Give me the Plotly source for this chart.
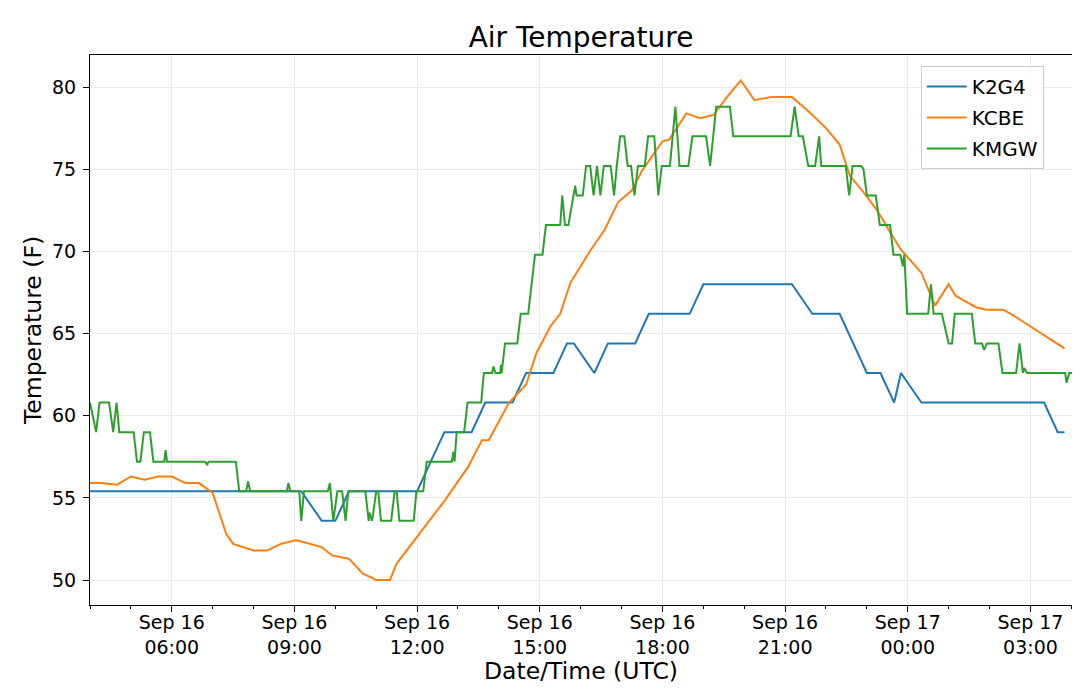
import plotly.graph_objects as go

# Air temperature at three stations (deg F), times in UTC
day1 = "2019-09-16 "
day2 = "2019-09-17 "

k2g4_time = ["04:00", "09:10", "09:40", "10:00", "10:20", "12:00", "12:40", "13:20",
             "13:40", "14:20", "14:40", "15:20", "15:40", "15:50", "16:20", "16:40",
             "17:20", "17:40", "18:40", "19:00", "21:10", "21:40", "22:20", "23:00",
             "23:20", "23:40", "23:50"]
k2g4_time_d2 = ["00:20", "03:20", "03:40", "03:50"]
k2g4_temp = [55.4, 55.4, 53.6, 53.6, 55.4, 55.4, 59.0, 59.0,
             60.8, 60.8, 62.6, 62.6, 64.4, 64.4, 62.6, 64.4,
             64.4, 66.2, 66.2, 68.0, 68.0, 66.2, 66.2, 62.6,
             62.6, 60.8, 62.6,
             60.8, 60.8, 59.0, 59.0]

kcbe_time = ["04:00", "04:15", "04:40", "05:00", "05:20", "05:40", "06:00", "06:20",
             "06:40", "07:00", "07:20", "07:30", "08:00", "08:20", "08:40", "09:00",
             "09:05", "09:40", "09:55", "10:20", "10:40", "11:00", "11:20", "11:30",
             "12:25", "12:40", "13:15", "13:35", "13:45", "14:15", "14:40", "14:55",
             "15:15", "15:30", "15:45", "16:15", "16:35", "16:55", "17:15", "17:30",
             "18:00", "18:10", "18:35", "18:55", "19:15", "19:35", "19:55", "20:15",
             "20:40", "21:10", "21:35", "22:00", "22:20", "22:35", "22:55", "23:15",
             "23:35", "23:50"]
kcbe_time_d2 = ["00:20", "00:40", "01:00", "01:10", "01:40", "01:55", "02:20", "02:35",
                "03:50"]
kcbe_temp = [55.9, 55.9, 55.8, 56.3, 56.1, 56.3, 56.3, 55.9,
             55.9, 55.3, 52.8, 52.2, 51.8, 51.8, 52.2, 52.4,
             52.4, 52.0, 51.5, 51.3, 50.4, 50.0, 50.0, 51.0,
             54.0, 54.8, 56.9, 58.5, 58.5, 60.8, 61.9, 63.8,
             65.4, 66.2, 68.1, 70.1, 71.3, 73.0, 73.7, 74.9,
             76.7, 76.8, 78.4, 78.1, 78.3, 79.4, 80.4, 79.2,
             79.4, 79.4, 78.5, 77.5, 76.5, 74.6, 73.6, 72.5,
             71.1, 70.1,
             68.7, 66.7, 68.0, 67.3, 66.6, 66.45, 66.45, 66.1,
             64.1]

kmgw_time = ["04:00", "04:09", "04:14", "04:28", "04:34", "04:39", "04:43", "05:04",
             "05:09", "05:14", "05:19", "05:28", "05:33", "05:49", "05:51", "05:53",
             "06:49", "06:52", "06:54", "07:34", "07:39", "07:49", "07:52", "07:55",
             "08:49", "08:51", "08:54", "09:07", "09:10", "09:14", "09:49", "09:52",
             "09:57", "10:03", "10:10", "10:15", "10:19", "10:44", "10:49", "10:50",
             "10:54", "11:00", "11:03", "11:07", "11:22", "11:27", "11:30", "11:34",
             "11:55", "11:59", "12:09", "12:14", "12:51", "12:53", "12:55", "12:58",
             "13:09", "13:14", "13:34", "13:38", "13:50", "13:52", "13:55", "14:02",
             "14:03", "14:04", "14:09", "14:27", "14:32", "14:43", "14:53", "15:04",
             "15:09", "15:30", "15:33", "15:37", "15:42", "15:52", "15:54", "16:03",
             "16:08", "16:14", "16:19", "16:24", "16:29", "16:34", "16:44", "16:49",
             "16:53", "16:58", "17:04", "17:09", "17:14", "17:19", "17:24", "17:34",
             "17:39", "17:48", "17:54", "17:59", "18:11", "18:19", "18:25", "18:38",
             "18:44", "19:04", "19:10", "19:19", "19:39", "19:44", "21:08", "21:14",
             "21:20", "21:26", "21:34", "21:44", "21:50", "21:53", "22:29", "22:34",
             "22:39", "22:52", "22:55", "23:00", "23:13", "23:19", "23:34", "23:39",
             "23:49", "23:53", "23:55", "23:59"]
kmgw_time_d2 = ["00:30", "00:34", "00:38", "00:50", "01:00", "01:05", "01:09", "01:34",
                "01:39", "01:49", "01:52", "01:56", "02:13", "02:19", "02:39", "02:44",
                "02:49", "02:51", "02:55", "03:51", "03:53", "03:57", "04:01"]
kmgw_temp = [60.8, 59.0, 60.8, 60.8, 59.0, 60.8, 59.0, 59.0,
             57.2, 57.2, 59.0, 59.0, 57.2, 57.2, 57.9, 57.2,
             57.2, 57.0, 57.2, 57.2, 55.4, 55.4, 56.0, 55.4,
             55.4, 55.9, 55.4, 55.4, 53.6, 55.4, 55.4, 55.9,
             53.6, 55.4, 55.4, 53.6, 55.4, 55.4, 53.6, 54.1,
             53.6, 55.4, 55.4, 53.6, 53.6, 55.4, 55.4, 53.6,
             53.6, 55.4, 55.4, 57.2, 57.2, 57.8, 57.2, 59.0,
             59.0, 60.8, 60.8, 62.6, 62.6, 63.0, 62.6, 62.6,
             63.1, 62.6, 64.4, 64.4, 66.2, 66.2, 69.8, 69.8,
             71.6, 71.6, 73.4, 71.6, 71.6, 74.0, 73.4, 73.4,
             75.2, 75.2, 73.4, 75.2, 73.4, 75.2, 75.2, 73.4,
             75.2, 77.0, 77.0, 75.2, 75.2, 73.4, 75.2, 75.2,
             77.0, 77.0, 73.4, 75.2, 75.2, 78.8, 75.2, 75.2,
             77.0, 77.0, 75.2, 78.8, 78.8, 77.0, 77.0, 78.8,
             77.0, 77.0, 75.2, 75.2, 77.0, 75.2, 75.2, 73.4,
             75.2, 75.2, 75.0, 73.4, 73.4, 71.6, 71.6, 69.8,
             69.8, 69.1, 69.8, 66.2,
             66.2, 68.0, 66.2, 66.2, 64.4, 64.4, 66.2, 66.2,
             64.4, 64.4, 64.0, 64.4, 64.4, 62.6, 62.6, 64.4,
             62.6, 62.9, 62.6, 62.6, 62.0, 62.6, 62.6]


def stamps(first, second):
    return [day1 + t for t in first] + [day2 + t for t in second]


stations = [
    ("K2G4", stamps(k2g4_time, k2g4_time_d2), k2g4_temp, "#1f77b4"),
    ("KCBE", stamps(kcbe_time, kcbe_time_d2), kcbe_temp, "#ff7f0e"),
    ("KMGW", stamps(kmgw_time, kmgw_time_d2), kmgw_temp, "#2ca02c"),
]

fig = go.Figure()
for name, x, y, color in stations:
    fig.add_trace(go.Scatter(x=x, y=y, mode="lines", name=name, legendgroup=name,
                             line=dict(color=color, width=2)))

# page body has an 8px margin, so the figure is a bit smaller than the window
fig.update_layout(
    width=1072,
    height=691,
    paper_bgcolor="white",
    plot_bgcolor="white",
    font=dict(family="DejaVu Sans", size=19, color="black"),
    margin=dict(l=82, r=8, t=47, b=94, autoexpand=False),
    title=dict(text="Air Temperature", x=0.5, xref="paper", y=0.958,
               yref="container", yanchor="middle", font=dict(size=28)),
    legend=dict(x=0.846, y=0.98, xanchor="left", yanchor="top",
                bgcolor="rgba(255,255,255,0.8)", bordercolor="#cccccc",
                borderwidth=1, font=dict(size=20), itemwidth=40,
                tracegroupgap=2),
    showlegend=True,
)

fig.update_xaxes(
    type="date",
    automargin=False,
    range=[day1 + "04:00", day2 + "04:01"],
    dtick=3 * 3600 * 1000,
    tick0=day1 + "00:00",
    tickformat="%b %d<br>%H:%M",
    ticks="outside", ticklen=6, tickcolor="black",
    ticklabelstandoff=-6,
    minor=dict(dtick=3600 * 1000, ticks="outside", ticklen=3,
               tickcolor="black", showgrid=False),
    showline=True, linecolor="black", linewidth=1, mirror=True,
    showgrid=True, gridcolor="#ebebeb", gridwidth=1,
    zeroline=False,
    title=dict(text="Date/Time (UTC)", font=dict(size=23.5), standoff=6),
)

fig.update_yaxes(
    automargin=False,
    range=[48.48, 81.95],
    dtick=5,
    ticks="outside", ticklen=6, tickcolor="black",
    ticklabelstandoff=3,
    showline=True, linecolor="black", linewidth=1, mirror=True,
    showgrid=True, gridcolor="#ebebeb", gridwidth=1,
    zeroline=False,
    title=dict(text="Temperature (F)", font=dict(size=23.5), standoff=3),
)

fig.write_html("out.html")
